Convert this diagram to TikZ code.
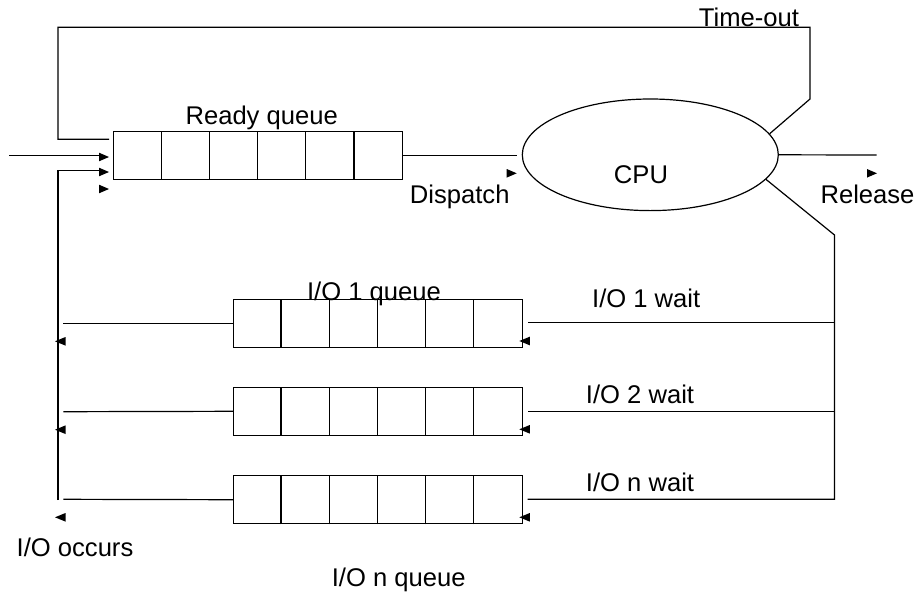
\documentclass[tikz,border=0pt]{standalone}
\usepackage{fontspec}
\setmainfont{Liberation Sans}
\usetikzlibrary{shapes.geometric}
\begin{document}
\begin{tikzpicture}[x=1pt,y=-1pt,line width=1.2pt,
  queue/.style={draw,rectangle,minimum width=289pt,minimum height=48pt,inner sep=0pt},
  cpushape/.style={draw,ellipse,minimum width=256pt,minimum height=111.6pt,inner sep=0pt},
  lbl/.style={anchor=base,inner sep=0pt,font=\fontsize{25.6}{30}\selectfont},
  tipR/.pic={\fill (0,0) -- (-10,-4.3) -- (-10,4.3) -- cycle;},
  tipL/.pic={\fill (0,0) -- (10.5,-4.3) -- (10.5,4.3) -- cycle;}]
\useasboundingbox (0,0) rectangle (921,592);

% queues
\node[queue] (rq) at (258.2,155.2) {};
\node[queue] (io1) at (378,323.3) {};
\node[queue] (io2) at (378,411.3) {};
\node[queue] (io3) at (378,499.7) {};
\foreach \q in {rq,io1,io2,io3}
  \foreach \i in {1,...,5}
    \draw ([xshift=\i*48.17pt]\q.south west) -- ([xshift=\i*48.17pt]\q.north west);

% CPU
\node[cpushape] (cpu) at (650.3,154.8) {};

% coordinates
\coordinate (inS) at (9,155.3);
\coordinate (inE) at (100,155.3);
\coordinate (tA) at (810,99);
\coordinate (tB) at (810,27.3);
\coordinate (tC) at (58,27.3);
\coordinate (tD) at (58,139.3);
\coordinate (tE) at (109,139.3);
\coordinate (dispE) at (516.7,155.2);
\coordinate (relE) at (876.7,155);
\coordinate (rvTop) at (834.5,235);
\coordinate (rvBot) at (834.5,499.3);
\coordinate (r1) at (527.7,322.7);
\coordinate (r2) at (527.7,411.3);
\coordinate (r3) at (527.7,499.3);
\coordinate (rv1) at (834.5,322.7);
\coordinate (rv2) at (834.5,411.3);
\coordinate (l1) at (63.3,323.3);
\coordinate (l2) at (63.3,411.7);
\coordinate (l3) at (63.3,499.3);
\coordinate (lb) at (58,500);
\coordinate (lt) at (58,170.7);
\coordinate (ltE) at (100,170.7);

% connectors
\draw (inS) -- (inE);
\draw[line join=miter] (cpu.10.9) -- (tA) -- (tB) -- (tC) -- (tD) -- (tE);
\draw (rq.east) -- (dispE);
\draw (cpu.east) -- (relE);
\draw[line join=miter] (cpu.-12.2) -- (rvTop) -- (rvBot) -- (r3);
\draw (rv1) -- (r1);
\draw (rv2) -- (r2);
\draw (io1.west) -- (l1);
\draw (io2.west) -- (l2);
\draw (io3.west) -- (l3);
\draw[line join=miter] (lb) -- (lt) -- (ltE);

% arrow tips
\pic at (109,157) {tipR};
\pic at (109,172) {tipR};
\pic at (109,189) {tipR};
\pic at (516.7,173.3) {tipR};
\pic at (877,173.3) {tipR};
\pic at (55,341.3) {tipL};
\pic at (55,429.7) {tipL};
\pic at (55,517.3) {tipL};
\pic at (519.3,341) {tipL};
\pic at (519.3,429.3) {tipL};
\pic at (519.3,517.3) {tipL};

% labels
\node[lbl] (lready) at (261.7,124.3) {Ready queue};
\node[lbl] (ltime) at (749,26.7) {Time-out};
\node[lbl] (lcpu) at (641,183.3) {CPU};
\node[lbl] (ldisp) at (459.7,203.3) {Dispatch};
\node[lbl] (lrel) at (867.5,203.3) {Release};
\node[lbl] (lioq1) at (374,300) {I/O 1 queue};
\node[lbl] (lw1) at (646.2,307.7) {I/O 1 wait};
\node[lbl] (lw2) at (640,403.3) {I/O 2 wait};
\node[lbl] (lwn) at (640,491.7) {I/O n wait};
\node[lbl] (locc) at (75,556.7) {I/O occurs};
\node[lbl] (lioqn) at (398.7,586.7) {I/O n queue};
\end{tikzpicture}
\end{document}
